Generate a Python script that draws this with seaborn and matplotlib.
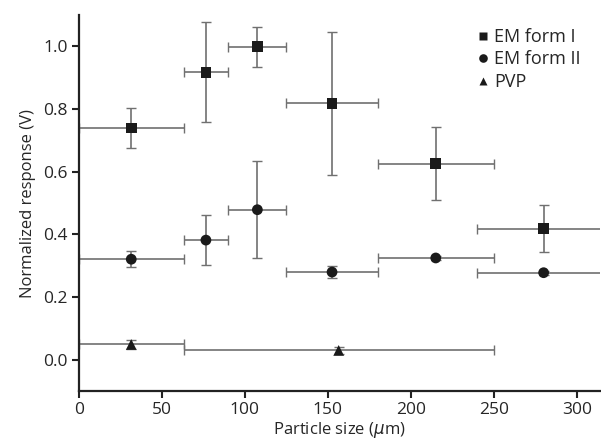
import numpy as np
import pandas as pd
import matplotlib
matplotlib.use("Agg")
import matplotlib.pyplot as plt
import seaborn as sns

# EM form I
em1_x = [31.5, 76.5, 107.5, 152.5, 215, 280]
em1_lo = [0, 63, 90, 125, 180, 240]
em1_hi = [63, 90, 125, 180, 250, 320]
em1_y = [0.74, 0.918, 0.999, 0.818, 0.626, 0.419]
em1_err = [0.065, 0.16, 0.064, 0.228, 0.117, 0.074]

# EM form II
em2_x = [31.5, 76.5, 107.5, 152.5, 215, 280]
em2_lo = [0, 63, 90, 125, 180, 240]
em2_hi = [63, 90, 125, 180, 250, 320]
em2_y = [0.321, 0.382, 0.479, 0.28, 0.325, 0.278]
em2_err = [0.026, 0.079, 0.155, 0.019, 0.007, 0.007]

# PVP
pvp_x = [31.5, 156.5]
pvp_lo = [0, 63]
pvp_hi = [63, 250]
pvp_y = [0.049, 0.030]
pvp_err = [0.014, 0.012]

labels = ["EM form I", "EM form II", "PVP"]

sns.set_style("ticks")
plt.rcParams["font.family"] = ["Open Sans", "DejaVu Sans"]

fig = plt.figure(figsize=(6.01, 4.44), dpi=100)
ax = fig.add_axes([0.1314, 0.119, 0.867, 0.847])

series = [
    (em1_x, em1_lo, em1_hi, em1_y, em1_err),
    (em2_x, em2_lo, em2_hi, em2_y, em2_err),
    (pvp_x, pvp_lo, pvp_hi, pvp_y, pvp_err),
]

rows = []
for name, (x, lo, hi, y, err) in zip(labels, series):
    x = np.array(x)
    xerr = [x - np.array(lo), np.array(hi) - x]
    ax.errorbar(x, y, xerr=xerr, yerr=err, fmt="none", ecolor="#707070",
                elinewidth=1.2, capsize=3.5, capthick=1.0, zorder=2)
    for xi, yi in zip(x, y):
        rows.append({"size": xi, "response": yi, "material": name})

df = pd.DataFrame(rows)

sns.scatterplot(data=df, x="size", y="response", style="material",
                markers={"EM form I": "s", "EM form II": "o", "PVP": "^"},
                color="#1a1a1a", s=60, edgecolor="none", ax=ax, zorder=3)

ax.set_xlim(0, 314)
ax.set_ylim(-0.1, 1.1)
ax.set_xticks([0, 50, 100, 150, 200, 250, 300])
ax.set_yticks([0.0, 0.2, 0.4, 0.6, 0.8, 1.0])
ax.set_yticklabels(["0.0", "0.2", "0.4", "0.6", "0.8", "1.0"])
ax.tick_params(labelsize=12.5, length=5, width=1.5, color="#222222", pad=3)

for side in ["top", "right"]:
    ax.spines[side].set_visible(False)
for side in ["left", "bottom"]:
    ax.spines[side].set_linewidth(1.6)
    ax.spines[side].set_color("#222222")

ax.set_xlabel("Particle size ($\\mu$m)", fontsize=12, labelpad=1)
ax.set_ylabel("Normalized response (V)", fontsize=12, labelpad=5)

ax.legend(title=None, frameon=False, loc="upper left",
          bbox_to_anchor=(0.745, 0.985), borderaxespad=0, fontsize=13,
          handletextpad=0.1, labelspacing=0.25, handlelength=1.0,
          markerscale=0.8)

fig.savefig("out.png", dpi=100)
